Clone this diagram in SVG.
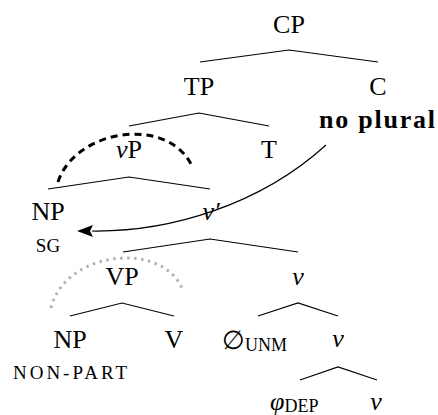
<svg xmlns="http://www.w3.org/2000/svg" width="438" height="415" viewBox="0 0 438 415">
<style>
.br{stroke:#000;stroke-width:1.2;fill:none}
</style>
<g id="branches">
<path class="br" d="M200,62 L289,50 L378,62"/>
<path class="br" d="M129,126 L199,113 L269,126"/>
<path class="br" d="M48,189 L129,177 L210,189"/>
<path class="br" d="M123,252 L210,239 L298,252"/>
<path class="br" d="M70,316 L122,303 L174,316"/>
<path class="br" d="M258,316 L298,303 L338,316"/>
<path class="br" d="M300,380 L338,367 L377,380"/>
</g>
<g id="connectors">
<path d="M58,182 C75,130 165,115 191,164" fill="none" stroke="#000" stroke-width="3" stroke-dasharray="7 5"/>
<path d="M51,308 C65,250 165,240 183,291" fill="none" stroke="#b3b3b3" stroke-width="3" stroke-dasharray="2.5 4.5"/>
<path d="M326,145 C260,205 170,232 92,231" fill="none" stroke="#000" stroke-width="1.2"/>
<path d="M77,231 L93,225 L90,231 L93,237 Z" fill="#000"/>
</g>
<g id="CP"><text font-family="Liberation Serif" font-size="26" text-anchor="middle" x="289" y="33">CP</text></g>
<g id="TP"><text font-family="Liberation Serif" font-size="26" text-anchor="middle" x="199" y="95">TP</text></g>
<g id="C"><text font-family="Liberation Serif" font-size="26" text-anchor="middle" x="378" y="95">C</text><text font-family="Liberation Serif" font-size="26" font-weight="bold" text-anchor="middle" x="377" y="128" textLength="116" lengthAdjust="spacing">no plural</text></g>
<g id="vP"><text font-family="Liberation Serif" font-size="26" text-anchor="middle" x="129" y="158"><tspan font-style="italic">v</tspan>P</text></g>
<g id="T"><text font-family="Liberation Serif" font-size="26" text-anchor="middle" x="269" y="158">T</text></g>
<g id="NP-sg"><text font-family="Liberation Serif" font-size="26" text-anchor="middle" x="48" y="220">NP</text><text font-family="Liberation Serif" font-size="19" text-anchor="middle" x="48" y="252">SG</text></g>
<g id="vbar"><text font-family="Liberation Serif" font-size="26" font-style="italic" text-anchor="middle" x="211" y="220">v&#8242;</text></g>
<g id="VP"><text font-family="Liberation Serif" font-size="26" text-anchor="middle" x="122" y="285">VP</text></g>
<g id="v1"><text font-family="Liberation Serif" font-size="26" font-style="italic" text-anchor="middle" x="298" y="285">v</text></g>
<g id="NP-nonpart"><text font-family="Liberation Serif" font-size="26" text-anchor="middle" x="70" y="348">NP</text><text font-family="Liberation Serif" font-size="19" text-anchor="middle" x="70" y="379" textLength="114" lengthAdjust="spacing">NON-PART</text></g>
<g id="V"><text font-family="Liberation Serif" font-size="26" text-anchor="middle" x="174" y="348">V</text></g>
<g id="unm"><text font-family="Liberation Serif" font-size="26" x="222" y="349">&#8709;<tspan font-size="18" dy="2">UNM</tspan></text></g>
<g id="v2"><text font-family="Liberation Serif" font-size="26" font-style="italic" text-anchor="middle" x="338" y="347">v</text></g>
<g id="dep"><text font-family="Liberation Serif" font-size="26" x="270" y="410"><tspan font-style="italic">&#966;</tspan><tspan font-size="18" dy="2">DEP</tspan></text></g>
<g id="v3"><text font-family="Liberation Serif" font-size="26" font-style="italic" text-anchor="middle" x="376" y="410">v</text></g>
</svg>
